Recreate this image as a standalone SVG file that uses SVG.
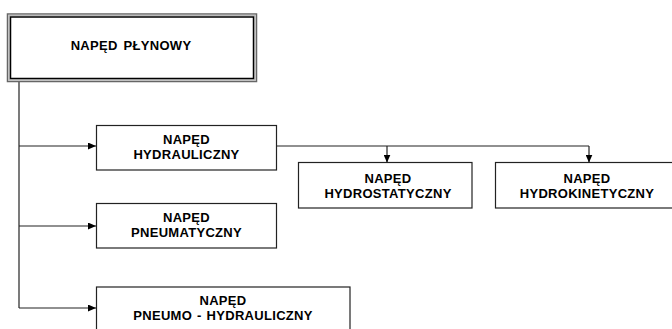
<svg xmlns="http://www.w3.org/2000/svg" width="672" height="329" viewBox="0 0 672 329">
<style>
.box{fill:#fff;stroke:#222;stroke-width:1.2}
.t{font-family:"Liberation Sans",Arial,sans-serif;font-weight:bold;font-size:13px;fill:#000;text-anchor:middle;letter-spacing:0.3px}
.c{fill:none;stroke:#222;stroke-width:1.2}
</style>
<defs>
<marker id="ah" viewBox="0 0 8 7" refX="8" refY="3.5" markerWidth="8" markerHeight="7" markerUnits="userSpaceOnUse" orient="auto">
<path d="M0,0 L8,3.5 L0,7 Z" fill="#000"/>
</marker>
</defs>
<rect width="672" height="329" fill="#fff"/>
<g id="connectors">
<path class="c" d="M19,82 V308"/>
<path class="c" d="M19,146 H96" marker-end="url(#ah)"/>
<path class="c" d="M19,226 H96" marker-end="url(#ah)"/>
<path class="c" d="M19,308 H96" marker-end="url(#ah)"/>
<path class="c" d="M277,146 H589"/>
<path class="c" d="M387,146 V162.5" marker-end="url(#ah)"/>
<path class="c" d="M589,146 V162.5" marker-end="url(#ah)"/>
</g>
<g id="naped-plynowy">
<rect x="7.5" y="14" width="249" height="67.5" fill="#fff" stroke="#666" stroke-width="1.5"/>
<rect x="9" y="15.5" width="246" height="64.5" fill="none" stroke="#bbb" stroke-width="1.5"/>
<rect x="10.5" y="17" width="243" height="61.5" fill="#fff" stroke="#000" stroke-width="1.5"/>
<text class="t" x="131" y="50" word-spacing="2">NAPĘD PŁYNOWY</text>
</g>
<g id="naped-hydrauliczny">
<rect class="box" x="96.5" y="125.5" width="180" height="44.5"/>
<text class="t" x="186.5" y="144">NAPĘD</text>
<text class="t" x="186.5" y="158.5">HYDRAULICZNY</text>
</g>
<g id="naped-hydrostatyczny">
<rect class="box" x="298.5" y="162.5" width="173.5" height="45.5"/>
<text class="t" x="388" y="183">NAPĘD</text>
<text class="t" x="388" y="197.5">HYDROSTATYCZNY</text>
</g>
<g id="naped-hydrokinetyczny">
<rect class="box" x="495.5" y="162.5" width="185" height="45.5"/>
<text class="t" x="587" y="183">NAPĘD</text>
<text class="t" x="587" y="197.5">HYDROKINETYCZNY</text>
</g>
<g id="naped-pneumatyczny">
<rect class="box" x="96.5" y="203.5" width="180" height="44.5"/>
<text class="t" x="186.5" y="222">NAPĘD</text>
<text class="t" x="186.5" y="236.5">PNEUMATYCZNY</text>
</g>
<g id="naped-pneumo-hydrauliczny">
<rect class="box" x="96.5" y="287" width="253.5" height="50"/>
<text class="t" x="223" y="304.5">NAPĘD</text>
<text class="t" x="223" y="320" word-spacing="1">PNEUMO - HYDRAULICZNY</text>
</g>
</svg>
